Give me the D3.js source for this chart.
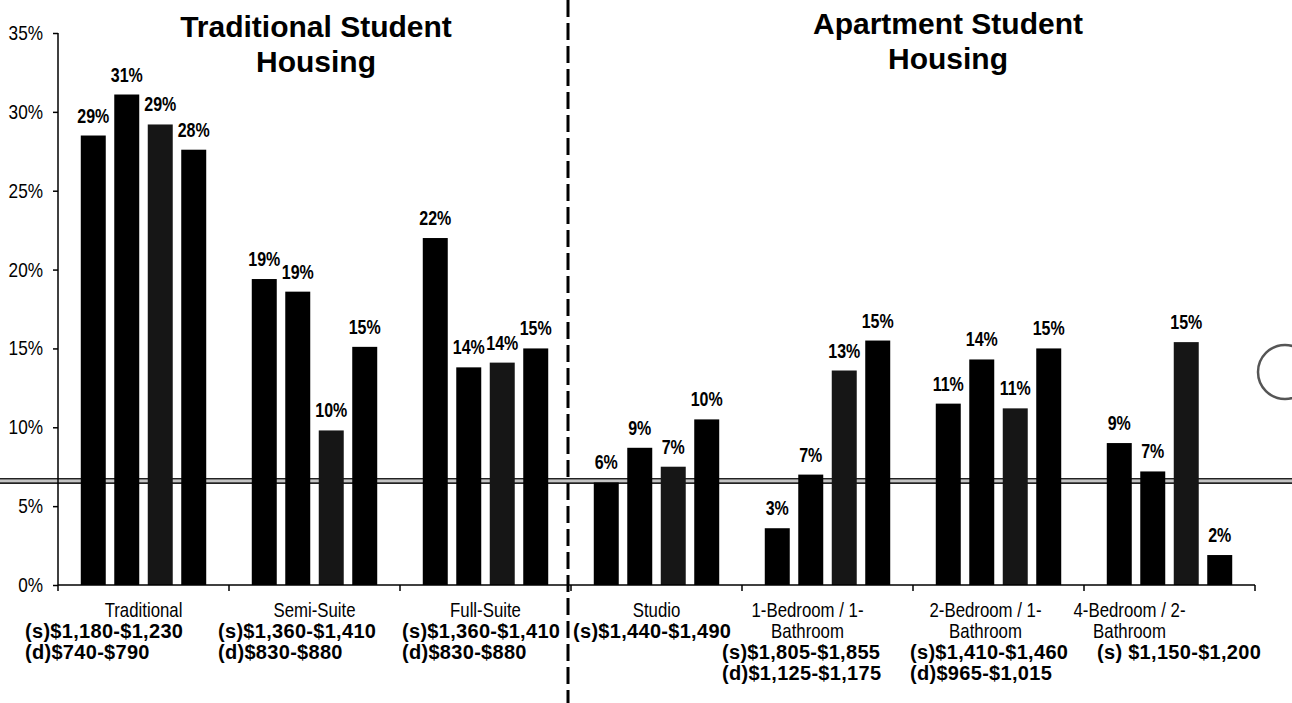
<!DOCTYPE html>
<html>
<head>
<meta charset="utf-8">
<script src="https://cdn.jsdelivr.net/npm/d3@7"></script>
<style>
  body { margin: 0; background: #fff; }
  svg { display: block; }
</style>
</head>
<body>
<script>

// data
var categories = ["Traditional", "Semi-Suite", "Full-Suite", "Studio",
  "1-Bedroom / 1-Bathroom", "2-Bedroom / 1-Bathroom", "4-Bedroom / 2-Bathroom"];

var categoryLines = [["Traditional"], ["Semi-Suite"], ["Full-Suite"], ["Studio"],
  ["1-Bedroom / 1-", "Bathroom"], ["2-Bedroom / 1-", "Bathroom"], ["4-Bedroom / 2-", "Bathroom"]];

var priceLines = [
  ["(s)$1,180-$1,230", "(d)$740-$790"],
  ["(s)$1,360-$1,410", "(d)$830-$880"],
  ["(s)$1,360-$1,410", "(d)$830-$880"],
  ["(s)$1,440-$1,490"],
  ["(s)$1,805-$1,855", "(d)$1,125-$1,175"],
  ["(s)$1,410-$1,460", "(d)$965-$1,015"],
  ["(s) $1,150-$1,200"]
];

var series = ["s1", "s2", "s3", "s4"];

// percent values, one array per series (bar heights)
var s1 = [28.5, 19.4, 22.0, 6.5, 3.6, 11.5, 9.0];
var s2 = [31.1, 18.6, 13.8, 8.7, 7.0, 14.3, 7.2];
var s3 = [29.2, 9.8, 14.1, 7.5, 13.6, 11.2, 15.4];
var s4 = [27.6, 15.1, 15.0, 10.5, 15.5, 15.0, 1.9];

// printed labels on top of the bars
var s1Labels = ["29%", "19%", "22%", "6%", "3%", "11%", "9%"];
var s2Labels = ["31%", "19%", "14%", "9%", "7%", "14%", "7%"];
var s3Labels = ["29%", "10%", "14%", "7%", "13%", "11%", "15%"];
var s4Labels = ["28%", "15%", "15%", "10%", "15%", "15%", "2%"];

var yTicks = [0, 5, 10, 15, 20, 25, 30, 35];
var refValue = 6.6;   // the double horizontal line
var splitAfter = 3;   // dashed divider sits before this category

var groupTitles = [
  ["Traditional Student", "Housing"],
  ["Apartment Student", "Housing"]
];

// layout
var w = 1292, h = 703;
var axisLeft = 58, axisRight = 1255, axisBottom = 585, axisTop = 33;
var nameShift = [0, 0, 0, 0, -20, -13, -40];
var priceShift = [-33, -11, 2, 2, -20, -3, 13];
var font = "'Liberation Sans', Arial, sans-serif";

var values = [s1, s2, s3, s4];
var labels = [s1Labels, s2Labels, s3Labels, s4Labels];
var barColor = ["#000", "#000", "#161616", "#000"];

var svg = d3.select("body")
  .append("svg")
  .attr("width", w)
  .attr("height", h);

svg.append("rect")
  .attr("x", 0).attr("y", 0).attr("width", w).attr("height", h)
  .style("fill", "#fff");

// squeezed text, the scan uses a narrow face
var place_narrow = function(parent, txt, x, y, size, weight, anchor, sx) {
  return parent.append("text")
    .attr("transform", "translate(" + x + "," + y + ") scale(" + sx + ",1)")
    .attr("text-anchor", anchor)
    .style("font-family", font)
    .style("font-weight", weight)
    .style("font-size", size + "px")
    .style("fill", "#000")
    .text(txt);
};

var x0 = d3.scaleBand()
  .domain(categories)
  .range([axisLeft, axisRight])
  .padding(0);

var x1 = d3.scaleBand()
  .domain(series)
  .range([0, x0.bandwidth()])
  .paddingInner(0.254)
  .paddingOuter(0.68);

var y = d3.scaleLinear()
  .domain([0, 35])
  .range([axisBottom, axisTop]);

// double reference line (behind the bars)
var refY = y(refValue);
svg.append("rect")
  .attr("x", 0).attr("y", refY - 1.5).attr("width", w).attr("height", 3)
  .style("fill", "#c4c4c4");
svg.append("line")
  .attr("x1", 0).attr("x2", w).attr("y1", refY - 2.2).attr("y2", refY - 2.2)
  .style("stroke", "#222").style("stroke-width", 1.6);
svg.append("line")
  .attr("x1", 0).attr("x2", w).attr("y1", refY + 2.2).attr("y2", refY + 2.2)
  .style("stroke", "#222").style("stroke-width", 1.6);

// bars
var groups = svg.selectAll(".grp")
  .data(categories)
  .enter()
  .append("g")
  .attr("class", "grp")
  .attr("transform", function(d) { return "translate(" + x0(d) + ",0)"; });

var cells = function(d, i) {
  return series.map(function(s, k) {
    return {s: s, k: k, v: values[k][i], label: labels[k][i]};
  });
};

groups.selectAll("rect")
  .data(cells)
  .enter()
  .append("rect")
  .attr("x", function(d) { return x1(d.s); })
  .attr("y", function(d) { return y(d.v); })
  .attr("width", x1.bandwidth())
  .attr("height", function(d) { return y(0) - y(d.v); })
  .style("fill", function(d) { return barColor[d.k]; });

// value labels
groups.each(function(c, i) {
  var g = d3.select(this);
  cells(c, i).forEach(function(d) {
    place_narrow(g, d.label, x1(d.s) + x1.bandwidth() / 2, y(d.v) - 13, 20, "bold", "middle", 0.8);
  });
});

// y axis
var yAxis = d3.axisLeft(y)
  .tickValues(yTicks)
  .tickSize(5)
  .tickFormat(function(d) { return ""; });

var yg = svg.append("g")
  .attr("transform", "translate(" + axisLeft + ",0)")
  .call(yAxis);
yg.select(".domain").attr("d", "M0," + axisTop + "V" + axisBottom)
  .style("stroke", "#000").style("stroke-width", 1.5);
yg.selectAll(".tick line").style("stroke", "#000").style("stroke-width", 1.5);
yTicks.forEach(function(t) {
  place_narrow(svg, t + "%", axisLeft - 15, y(t) + 7, 20, "normal", "end", 0.86);
});

// x axis: ticks at the band boundaries
var bounds = categories.map(function(c) { return x0(c); }).concat([axisRight]);
svg.append("line")
  .attr("x1", axisLeft).attr("x2", axisRight)
  .attr("y1", axisBottom).attr("y2", axisBottom)
  .style("stroke", "#000").style("stroke-width", 1.5);
svg.selectAll(".xtick")
  .data(bounds)
  .enter()
  .append("line")
  .attr("class", "xtick")
  .attr("x1", function(d) { return d; }).attr("x2", function(d) { return d; })
  .attr("y1", axisBottom).attr("y2", axisBottom + 6)
  .style("stroke", "#000").style("stroke-width", 1.5);

// category names and price lines
categories.forEach(function(c, i) {
  var cx = x0(c) + x0.bandwidth() / 2 + nameShift[i];
  var lines = categoryLines[i];
  lines.forEach(function(t, j) {
    place_narrow(svg, t, cx, 617 + j * 21, 20, "normal", "middle", 0.84);
  });
  var px = x0(c) + priceShift[i];
  priceLines[i].forEach(function(t, j) {
    svg.append("text")
      .attr("x", px)
      .attr("y", 617 + (lines.length + j) * 21)
      .attr("text-anchor", "start")
      .style("font-family", font)
      .style("font-weight", "bold")
      .style("font-size", "20px")
      .style("letter-spacing", "0.3px")
      .style("fill", "#000")
      .text(t);
  });
});

// dashed divider between the two housing types
var divX = x0(categories[splitAfter]) - 3;
svg.append("line")
  .attr("x1", divX).attr("x2", divX)
  .attr("y1", 0).attr("y2", h)
  .style("stroke", "#000")
  .style("stroke-width", 3)
  .style("stroke-dasharray", "17,6");

// group titles
var titleCenter = [316, 948];
var titleBase = [37, 34];
groupTitles.forEach(function(g, i) {
  g.forEach(function(t, j) {
    svg.append("text")
      .attr("x", titleCenter[i])
      .attr("y", titleBase[i] + j * 35)
      .attr("text-anchor", "middle")
      .style("font-family", font)
      .style("font-weight", "bold")
      .style("font-size", "30px")
      .style("fill", "#000")
      .text(t);
  });
});

// punch hole on the scan, right edge
svg.append("circle")
  .attr("cx", 1285).attr("cy", 372).attr("r", 27)
  .style("fill", "none")
  .style("stroke", "#555")
  .style("stroke-width", 2.5);

</script>
</body>
</html>
